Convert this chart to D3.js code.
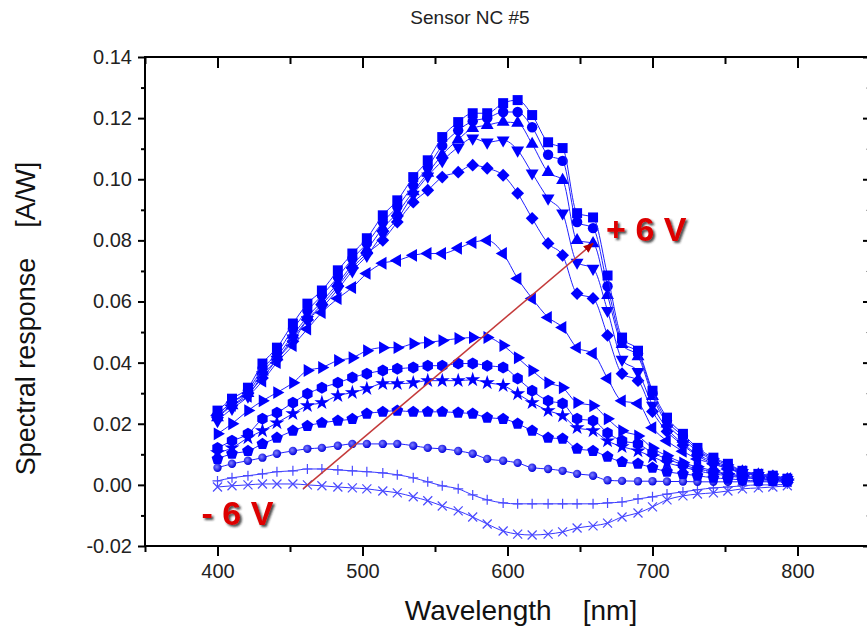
<!DOCTYPE html>
<html>
<head>
<meta charset="utf-8">
<script src="https://cdn.jsdelivr.net/npm/d3@7"></script>
<style>
  body { margin: 0; background: #fff; }
  svg { display: block; font-family: 'Liberation Sans', Arial, sans-serif; }
</style>
</head>
<body>
<svg width="867" height="632"></svg>
<script>
// wavelength of each measured point (nm)
const wavelengths = [400, 410, 421, 431, 441, 452, 462, 472, 483, 493, 503, 514, 524, 535, 545, 555, 566, 576, 586, 597,
  607, 617, 628, 638, 648, 659, 669, 679, 690, 700, 710, 721, 731, 742, 752, 762, 773, 783, 793]

// spectral response (A/W) per bias voltage
const vP6 = [0.0243, 0.0282, 0.0318, 0.0397, 0.0449, 0.0528, 0.0593, 0.0636, 0.0702, 0.0757, 0.0807, 0.0882, 0.0931, 0.1007, 0.1062, 0.1138, 0.1187, 0.1216, 0.1216, 0.1249,
  0.1259, 0.1210, 0.1121, 0.1102, 0.0889, 0.0875, 0.0685, 0.0482, 0.0439, 0.0308, 0.0220, 0.0167, 0.0121, 0.0089, 0.0069, 0.0046, 0.0036, 0.0030, 0.0020]
const vP5 = [0.023, 0.027, 0.031, 0.038, 0.043, 0.051, 0.057, 0.062, 0.068, 0.074, 0.079, 0.086, 0.091, 0.098, 0.104, 0.111, 0.116, 0.119, 0.120, 0.122,
  0.122, 0.117, 0.108, 0.106, 0.086, 0.084, 0.065, 0.047, 0.043, 0.030, 0.021, 0.016, 0.0115, 0.0085, 0.0065, 0.0045, 0.0035, 0.003, 0.002]
const vP4 = [0.022, 0.026, 0.030, 0.037, 0.042, 0.049, 0.055, 0.060, 0.066, 0.072, 0.077, 0.084, 0.089, 0.096, 0.102, 0.108, 0.113, 0.1167, 0.1177, 0.1187,
  0.1184, 0.1115, 0.1023, 0.0997, 0.080, 0.079, 0.062, 0.046, 0.042, 0.029, 0.020, 0.015, 0.011, 0.008, 0.006, 0.0043, 0.0033, 0.0027, 0.0018]
const vP3 = [0.021, 0.025, 0.029, 0.036, 0.041, 0.048, 0.054, 0.058, 0.064, 0.070, 0.075, 0.082, 0.087, 0.095, 0.101, 0.106, 0.1105, 0.1134, 0.1121, 0.1128,
  0.1095, 0.1020, 0.0938, 0.0889, 0.0728, 0.0708, 0.057, 0.041, 0.037, 0.026, 0.0185, 0.0135, 0.010, 0.0075, 0.0055, 0.004, 0.003, 0.0025, 0.0017]
const vP2 = [0.023, 0.027, 0.030, 0.035, 0.041, 0.047, 0.054, 0.059, 0.065, 0.071, 0.0757, 0.080, 0.086, 0.0925, 0.0964, 0.1007, 0.1023, 0.1046, 0.1036, 0.1013,
  0.0954, 0.0872, 0.079, 0.0751, 0.0626, 0.061, 0.0489, 0.0364, 0.0341, 0.024, 0.0175, 0.013, 0.0095, 0.007, 0.0053, 0.0038, 0.003, 0.0024, 0.0017]
const vP1 = [0.0226, 0.026, 0.029, 0.034, 0.040, 0.0456, 0.051, 0.0564, 0.061, 0.0646, 0.0692, 0.0725, 0.0734, 0.0751, 0.0757, 0.0757, 0.0774, 0.0793, 0.0800, 0.0757,
  0.0675, 0.0610, 0.0548, 0.0515, 0.0449, 0.0430, 0.0348, 0.0275, 0.0266, 0.0187, 0.0144, 0.011, 0.0085, 0.0069, 0.0052, 0.0043, 0.0033, 0.0026, 0.002]
const v0 = [0.0167, 0.020, 0.0243, 0.0275, 0.0302, 0.0334, 0.0374, 0.0384, 0.0407, 0.0416, 0.0439, 0.0449, 0.0449, 0.0462, 0.0466, 0.0472, 0.0479, 0.0482, 0.0482, 0.0456,
  0.0416, 0.0374, 0.0334, 0.0318, 0.0269, 0.0259, 0.0216, 0.0177, 0.016, 0.012, 0.0095, 0.0072, 0.0059, 0.0046, 0.0036, 0.003, 0.0023, 0.002, 0.0016]
const vM1 = [0.0121, 0.0144, 0.0167, 0.0216, 0.0236, 0.0269, 0.0298, 0.0318, 0.0334, 0.0351, 0.0364, 0.0374, 0.038, 0.0384, 0.039, 0.039, 0.0397, 0.0397, 0.039, 0.0384,
  0.0348, 0.0308, 0.0275, 0.0266, 0.0216, 0.021, 0.017, 0.0144, 0.0134, 0.0105, 0.0085, 0.0066, 0.0052, 0.0043, 0.0033, 0.0026, 0.002, 0.0016, 0.0013]
const vM2 = [0.0105, 0.0121, 0.0154, 0.0177, 0.0203, 0.0233, 0.0259, 0.0269, 0.0292, 0.0302, 0.0315, 0.0331, 0.0331, 0.0334, 0.0341, 0.0341, 0.0341, 0.0344, 0.0334, 0.0325,
  0.0298, 0.0269, 0.0243, 0.0226, 0.0187, 0.0177, 0.0144, 0.0125, 0.0111, 0.0092, 0.0072, 0.0059, 0.0046, 0.0036, 0.003, 0.0023, 0.002, 0.0016, 0.0013]
const vM3 = [0.0085, 0.0102, 0.0111, 0.0134, 0.0154, 0.0177, 0.0193, 0.0203, 0.021, 0.0216, 0.0233, 0.0239, 0.0243, 0.0239, 0.0239, 0.0239, 0.0236, 0.0233, 0.022, 0.0216,
  0.020, 0.0177, 0.0154, 0.0151, 0.0118, 0.0111, 0.0092, 0.0075, 0.0069, 0.0056, 0.0043, 0.0036, 0.003, 0.0023, 0.002, 0.0016, 0.0013, 0.0013, 0.001]
const vM4 = [0.0056, 0.0069, 0.0079, 0.0089, 0.0102, 0.0111, 0.0118, 0.0121, 0.0128, 0.0134, 0.0134, 0.0134, 0.0134, 0.0128, 0.0121, 0.0118, 0.0111, 0.0102, 0.0085, 0.0079,
  0.0072, 0.0056, 0.0052, 0.0046, 0.0036, 0.003, 0.0015, 0.0013, 0.0012, 0.0012, 0.0011, 0.0011, 0.001, 0.001, 0.001, 0.001, 0.001, 0.001, 0.001]
const vM5 = [0.0013, 0.0023, 0.003, 0.0036, 0.0043, 0.0046, 0.0052, 0.0052, 0.0049, 0.0046, 0.0043, 0.0039, 0.0033, 0.0023, 0.001, -0.0003, -0.0013, -0.0033, -0.0049, -0.0059,
  -0.0062, -0.0062, -0.0062, -0.0062, -0.0062, -0.0062, -0.0059, -0.0056, -0.0046, -0.0039, -0.003, -0.0023, -0.0016, -0.001, -0.0007, -0.0003, 0, 0, 0.0003]
const vM6 = [-0.0007, -0.0003, 0, 0.0003, 0.0003, 0.0003, 0, -0.0003, -0.0007, -0.001, -0.0013, -0.002, -0.0026, -0.0039, -0.0052, -0.0069, -0.0085, -0.0105, -0.0128, -0.0151,
  -0.0161, -0.0164, -0.0161, -0.0154, -0.0141, -0.0134, -0.0125, -0.0105, -0.0092, -0.0072, -0.0049, -0.0036, -0.003, -0.0026, -0.002, -0.0013, -0.001, -0.0007, -0.0003]

const xTicks = [400, 500, 600, 700, 800]
const yTicks = [-0.02, 0.00, 0.02, 0.04, 0.06, 0.08, 0.10, 0.12, 0.14]

// drawn from -6 V up to +6 V so the top curves sit on top
const series = [
  { name: '-6 V', values: vM6, marker: 'cross' },
  { name: '-5 V', values: vM5, marker: 'plus' },
  { name: '-4 V', values: vM4, marker: 'sphere' },
  { name: '-3 V', values: vM3, marker: 'pentagon' },
  { name: '-2 V', values: vM2, marker: 'star' },
  { name: '-1 V', values: vM1, marker: 'hexagon' },
  { name: '0 V', values: v0, marker: 'triRight' },
  { name: '+1 V', values: vP1, marker: 'triLeft' },
  { name: '+2 V', values: vP2, marker: 'diamond' },
  { name: '+3 V', values: vP3, marker: 'triDown' },
  { name: '+4 V', values: vP4, marker: 'triUp' },
  { name: '+5 V', values: vP5, marker: 'circle' },
  { name: '+6 V', values: vP6, marker: 'square' }
]

const svg = d3.select('svg')
const margin = { left: 145, right: 870, top: 57, bottom: 546 }
const blue = '#0000ff'

const x = d3.scaleLinear().domain([350, 850]).range([margin.left, margin.right])
const y = d3.scaleLinear().domain([-0.02, 0.14]).range([margin.bottom, margin.top])

const polygon = (n, r, rot = 0) => 'M' + d3.range(n).map(k => {
  const a = rot + k * 2 * Math.PI / n
  return [r * Math.sin(a), -r * Math.cos(a)].map(v => v.toFixed(2)).join(',')
}).join('L') + 'Z'

const markerPath = {
  square: d3.symbol(d3.symbolSquare, 100)(),
  circle: d3.symbol(d3.symbolCircle, 85)(),
  triUp: d3.symbol(d3.symbolTriangle, 72)(),
  triDown: d3.symbol(d3.symbolTriangle, 72)(),
  diamond: d3.symbol(d3.symbolSquare, 82)(),
  triLeft: d3.symbol(d3.symbolTriangle, 72)(),
  triRight: d3.symbol(d3.symbolTriangle, 72)(),
  hexagon: polygon(6, 6),
  star: d3.symbol(d3.symbolStar, 70)(),
  pentagon: polygon(5, 6.2),
  sphere: d3.symbol(d3.symbolCircle, 55)(),
  plus: 'M-5,0H5M0,-5V5',
  cross: 'M-4.5,-4.5L4.5,4.5M-4.5,4.5L4.5,-4.5'
}
const markerRotate = { triDown: 180, diamond: 45, triLeft: -90, triRight: 90 }

const defs = svg.append('defs')
const grad = defs.append('radialGradient').attr('id', 'sphere').attr('cx', '40%').attr('cy', '40%').attr('r', '60%')
grad.append('stop').attr('offset', '0%').attr('stop-color', '#8080ff')
grad.append('stop').attr('offset', '100%').attr('stop-color', '#0000e0')

const shadow = defs.append('filter').attr('id', 'shadow').attr('x', '-20%').attr('y', '-20%').attr('width', '140%').attr('height', '150%')
shadow.append('feDropShadow').attr('dx', 2).attr('dy', 2).attr('stdDeviation', 1.2).attr('flood-color', '#222').attr('flood-opacity', 0.8)

defs.append('marker').attr('id', 'arrow')
  .attr('viewBox', '0 0 10 10').attr('refX', 9).attr('refY', 5)
  .attr('markerWidth', 7).attr('markerHeight', 7).attr('orient', 'auto')
  .append('path').attr('d', 'M0,1L10,5L0,9Z').attr('fill', '#b00000')

//#region CURVES
const line = d3.line()
  .x((d, i) => x(wavelengths[i]))
  .y(d => y(d))
  .curve(d3.curveMonotoneX)

const plot = svg.append('g')
series.forEach(s => {
  const g = plot.append('g').attr('class', 'series')
  const open = s.marker === 'plus' || s.marker === 'cross'
  g.append('path')
    .attr('d', line(s.values))
    .attr('fill', 'none')
    .attr('stroke', open ? '#3838ff' : '#2020ff')
    .attr('stroke-width', 1)

  g.selectAll('path.mk')
    .data(s.values)
    .join('path')
    .attr('class', 'mk')
    .attr('d', markerPath[s.marker])
    .attr('transform', (d, i) => `translate(${x(wavelengths[i])},${y(d)}) rotate(${markerRotate[s.marker] || 0})`)
    .attr('fill', open ? 'none' : (s.marker === 'sphere' ? 'url(#sphere)' : blue))
    .attr('stroke', open ? '#4a4aff' : 'none')
    .attr('stroke-width', 1.2)
})
//#endregion

//#region AXES
const frame = svg.append('g').attr('stroke', '#000').attr('stroke-width', 2).attr('fill', 'none')
frame.append('line').attr('x1', margin.left).attr('x2', margin.left).attr('y1', margin.top).attr('y2', margin.bottom + 1)
frame.append('line').attr('x1', margin.left - 1).attr('x2', margin.right).attr('y1', margin.bottom).attr('y2', margin.bottom)
frame.append('line').attr('x1', margin.left - 1).attr('x2', margin.right).attr('y1', margin.top).attr('y2', margin.top)
frame.append('line').attr('x1', margin.right).attr('x2', margin.right).attr('y1', margin.top).attr('y2', margin.bottom)

const yMinor = d3.range(-0.01, 0.14, 0.02)
const xMinor = [350, 450, 550, 650, 750, 850]

const styleAxis = g => {
  g.select('.domain').remove()
  g.selectAll('.tick line').attr('stroke', '#000').attr('stroke-width', 2)
}

svg.append('g').attr('transform', `translate(${margin.left},0)`)
  .call(d3.axisLeft(y).tickValues(yTicks).tickSize(7).tickPadding(6).tickFormat(d => d.toFixed(2)))
  .call(styleAxis)
  .call(g => g.selectAll('text').attr('font-size', 20).attr('fill', '#222').attr('font-family', 'Liberation Sans, Arial, sans-serif'))
svg.append('g').attr('transform', `translate(${margin.left},0)`)
  .call(d3.axisLeft(y).tickValues(yMinor).tickSize(4).tickFormat(''))
  .call(styleAxis)

svg.append('g').attr('transform', `translate(0,${margin.bottom})`)
  .call(d3.axisBottom(x).tickValues(xTicks).tickSize(10).tickPadding(8).tickFormat(d3.format('d')))
  .call(styleAxis)
  .call(g => g.selectAll('text').attr('font-size', 20).attr('fill', '#222').attr('font-family', 'Liberation Sans Narrow, Liberation Sans, Arial, sans-serif'))
svg.append('g').attr('transform', `translate(0,${margin.bottom})`)
  .call(d3.axisBottom(x).tickValues(xMinor).tickSize(6).tickFormat(''))
  .call(styleAxis)

svg.append('g').attr('transform', `translate(0,${margin.top})`)
  .call(d3.axisBottom(x).tickValues(xTicks).tickSize(11).tickFormat(''))
  .call(styleAxis)
svg.append('g').attr('transform', `translate(0,${margin.top})`)
  .call(d3.axisBottom(x).tickValues(xMinor).tickSize(7).tickFormat(''))
  .call(styleAxis)

svg.append('g').attr('transform', `translate(${margin.right},0)`)
  .call(d3.axisLeft(y).tickValues(yTicks).tickSize(7).tickFormat(''))
  .call(styleAxis)
svg.append('g').attr('transform', `translate(${margin.right},0)`)
  .call(d3.axisLeft(y).tickValues(yMinor).tickSize(4).tickFormat(''))
  .call(styleAxis)
  .call(g => g.selectAll('.tick line').attr('stroke', '#999').attr('stroke-width', 1))
//#endregion

//#region LABELS
svg.append('text')
  .attr('x', 470).attr('y', 24)
  .attr('text-anchor', 'middle')
  .attr('font-size', 19).attr('fill', '#222')
  .text('Sensor NC #5')

svg.append('text')
  .attr('transform', `translate(35,${(margin.top + margin.bottom) / 2 + 17}) rotate(-90)`)
  .attr('text-anchor', 'middle')
  .attr('font-size', 27).attr('fill', '#111')
  .attr('xml:space', 'preserve')
  .text('Spectral response    [A/W]')

svg.append('text')
  .attr('x', 521).attr('y', 620)
  .attr('text-anchor', 'middle')
  .attr('font-size', 28).attr('fill', '#111')
  .attr('font-family', 'Liberation Sans Narrow, Liberation Sans, Arial, sans-serif')
  .attr('xml:space', 'preserve')
  .text('Wavelength    [nm]')

// voltage sweep annotation
svg.append('line')
  .attr('x1', x(459)).attr('y1', y(-0.0013))
  .attr('x2', x(659)).attr('y2', y(0.079))
  .attr('stroke', '#c43a3a').attr('stroke-width', 1.5)
  .attr('marker-end', 'url(#arrow)')

const tag = (label, wl, v) => svg.append('text')
  .attr('x', x(wl)).attr('y', y(v))
  .attr('font-size', 34).attr('font-weight', 'bold')
  .attr('fill', '#dd0000')
  .attr('filter', 'url(#shadow)')
  .text(label)
tag('+ 6 V', 668, 0.0797)
tag('- 6 V', 389, -0.0131)
//#endregion
</script>
</body>
</html>
